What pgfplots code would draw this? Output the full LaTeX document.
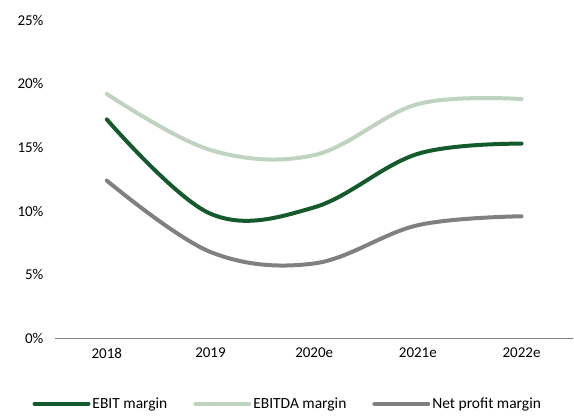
\documentclass[border=0pt]{standalone}
\usepackage{pgfplots}
\pgfplotsset{compat=1.18}
\usepackage{fontspec}
\setmainfont{Carlito}
\definecolor{ebit}{HTML}{145A2D}
\definecolor{ebitda}{HTML}{BFD3C0}
\definecolor{netp}{HTML}{808080}
\begin{document}
\begin{tikzpicture}[x=1pt,y=1pt]
\path (0,0) rectangle (574,418);
\begin{axis}[
  at={(55pt,79pt)}, anchor=south west,
  scale only axis, width=519pt, height=319pt,
  xmin=-0.5, xmax=4.5, ymin=0, ymax=25,
  xtick={0,1,2,3,4}, xticklabels={2018,2019,2020e,2021e,2022e},
  ytick={0,5,10,15,20,25},
  yticklabel={\pgfmathprintnumber{\tick}\%},
  /pgf/number format/assume math mode=true,
  axis x line=bottom, axis y line=left,
  x axis line style={draw=netp, line width=1.2pt, -},
  y axis line style={draw=none},
  major tick length=0pt,
  tick label style={font=\fontsize{15}{17}\selectfont, text=black},
  yticklabel style={xshift=-8pt},
  xticklabel style={yshift=-6pt},
  clip=false,
  legend columns=3,
  legend style={at={(0.449,-0.204)}, anchor=center, draw=none, fill=none,
    font=\fontsize{15.5}{17}\selectfont, column sep=0pt,
    /tikz/every even column/.append style={column sep=24pt}},
  legend image code/.code={\draw[#1, line width=4pt, line cap=round] (0pt,0pt) -- (54pt,0pt);},
  every axis plot/.append style={line width=4pt, line cap=round, smooth, tension=0.6, no markers},
]
\addplot[color=ebit] coordinates {(0,17.2) (1,9.8) (2,10.3) (3,14.5) (4,15.3)};
\addlegendentry{EBIT margin}
\addplot[color=ebitda] coordinates {(0,19.2) (1,14.8) (2,14.4) (3,18.4) (4,18.8)};
\addlegendentry{EBITDA margin}
\addplot[color=netp] coordinates {(0,12.4) (1,6.8) (2,5.9) (3,8.9) (4,9.6)};
\addlegendentry{Net profit margin}
\end{axis}
\end{tikzpicture}
\end{document}
